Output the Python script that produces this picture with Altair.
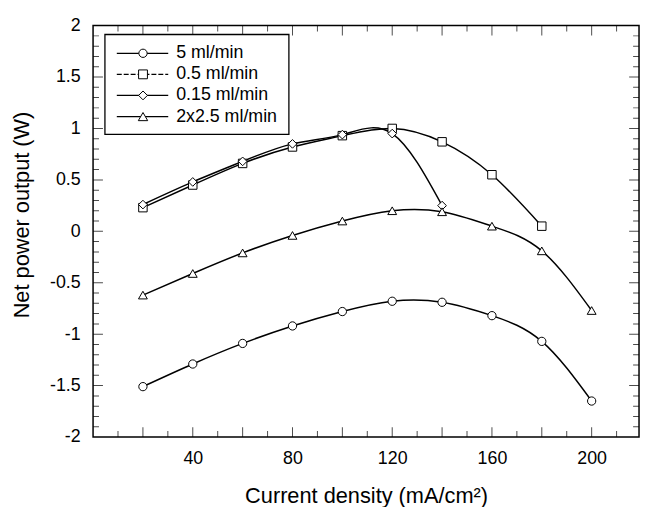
import altair as alt
import pandas as pd

# ---------------- data ----------------
series_names = ["5 ml/min", "0.5 ml/min", "0.15 ml/min", "2x2.5 ml/min"]
series_shapes = ["circle", "square", "diamond", "triangle-up"]
series_sizes = [70, 80, 80, 90]

x_full = [20, 40, 60, 80, 100, 120, 140, 160, 180, 200]
circle_vals = [-1.51, -1.29, -1.09, -0.92, -0.78, -0.68, -0.69, -0.82, -1.07, -1.65]
triangle_vals = [-0.62, -0.41, -0.21, -0.04, 0.10, 0.20, 0.19, 0.05, -0.19, -0.77]
x_square = [20, 40, 60, 80, 100, 120, 140, 160, 180]
square_vals = [0.23, 0.45, 0.66, 0.82, 0.93, 1.00, 0.87, 0.55, 0.05]
x_diamond = [20, 40, 60, 80, 100, 120, 140]
diamond_vals = [0.26, 0.48, 0.68, 0.85, 0.94, 0.95, 0.25]

x_labels = [40, 80, 120, 160, 200]
y_labels = [-2, -1.5, -1, -0.5, 0, 0.5, 1, 1.5, 2]
x_major_ticks = [20, 40, 60, 80, 100, 120, 140, 160, 180, 200]
x_minor_ticks = [10, 30, 50, 70, 90, 110, 130, 150, 170, 190, 210]
y_major_ticks = [-1.5, -1, -0.5, 0, 0.5, 1, 1.5]
y_minor_ticks = [v / 10 for v in range(-19, 20) if v % 5 != 0]

# ---------------- build table ----------------
rows = []
for xs, ys, name in [(x_full, circle_vals, series_names[0]),
                     (x_square, square_vals, series_names[1]),
                     (x_diamond, diamond_vals, series_names[2]),
                     (x_full, triangle_vals, series_names[3])]:
    for xv, yv in zip(xs, ys):
        rows.append({"x": xv, "y": yv, "series": name})
df = pd.DataFrame(rows)

W, H = 552, 416
FONT = "Liberation Sans"
MAJ, MIN = 10, 6

xscale = alt.Scale(domain=[0, 219], nice=False, zero=False)
yscale = alt.Scale(domain=[-2, 2], nice=False, zero=False)

x_axis = alt.Axis(values=x_labels, ticks=False, domain=False, grid=False,
                  labelFontSize=18, labelFont=FONT, labelColor="black",
                  labelPadding=13, labelFlush=False,
                  title="Current density (mA/cm²)", titleFontSize=22,
                  titleFont=FONT, titleFontWeight="normal", titleColor="black",
                  titlePadding=18)
y_axis = alt.Axis(values=y_labels, ticks=False, domain=False, grid=False,
                  labelFontSize=18, labelFont=FONT, labelColor="black",
                  labelPadding=13, labelFlush=False,
                  labelExpr="'' + datum.value",
                  title="Net power output (W)", titleFontSize=22,
                  titleFont=FONT, titleFontWeight="normal", titleColor="black",
                  titlePadding=16, titleY=191)

shape_scale = alt.Scale(domain=series_names, range=series_shapes)
size_scale = alt.Scale(domain=series_names, range=series_sizes)

lines = alt.Chart(df).mark_line(interpolate="natural", color="black",
                                strokeWidth=1.5).encode(
    x=alt.X("x:Q", scale=xscale, axis=x_axis),
    y=alt.Y("y:Q", scale=yscale, axis=y_axis),
    detail="series:N",
)
points = alt.Chart(df).mark_point(filled=True, fill="white", stroke="black",
                                  strokeWidth=1, opacity=1).encode(
    x=alt.X("x:Q", scale=xscale, axis=x_axis),
    y=alt.Y("y:Q", scale=yscale, axis=y_axis),
    shape=alt.Shape("series:N", scale=shape_scale, legend=None),
    size=alt.Size("series:N", scale=size_scale, legend=None),
)

# ---- inward ticks on all four sides ----
def tick_df(vals, length):
    return pd.DataFrame({"v": vals, "s": [2 * length] * len(vals)})

xt = pd.concat([tick_df(x_major_ticks, MAJ), tick_df(x_minor_ticks, MIN)])
yt = pd.concat([tick_df(y_major_ticks, MAJ), tick_df(y_minor_ticks, MIN)])

tick_layers = []
for ypos in [0, H]:
    tick_layers.append(
        alt.Chart(xt).mark_tick(color="black", thickness=1, clip=True).encode(
            x=alt.X("v:Q", scale=xscale, axis=x_axis),
            y=alt.value(ypos),
            size=alt.Size("s:Q", scale=None),
        ))
for xpos in [0, W]:
    tick_layers.append(
        alt.Chart(yt).mark_tick(color="black", thickness=1, clip=True).encode(
            y=alt.Y("v:Q", scale=yscale, axis=y_axis),
            x=alt.value(xpos),
            size=alt.Size("s:Q", scale=None),
        ))

# ---- legend (drawn inside plot) ----
one = pd.DataFrame({"k": [0]})
legend_layers = [
    alt.Chart(one).mark_rect(fill="white", stroke="black", strokeWidth=1.3).encode(
        x=alt.value(12), x2=alt.value(198), y=alt.value(9), y2=alt.value(110))
]
row_y = [28, 49.3, 70.6, 92]
for i, name in enumerate(series_names):
    rule_kwargs = dict(color="black", strokeWidth=1.3)
    if i == 1:
        rule_kwargs["strokeDash"] = [5, 2]
    legend_layers.append(
        alt.Chart(one).mark_rule(**rule_kwargs).encode(
            x=alt.value(24), x2=alt.value(76), y=alt.value(row_y[i])))
    legend_layers.append(
        alt.Chart(one).mark_point(shape=series_shapes[i], size=series_sizes[i],
                                  filled=True, fill="white", stroke="black",
                                  strokeWidth=1, opacity=1).encode(
            x=alt.value(50.5), y=alt.value(row_y[i])))
    legend_layers.append(
        alt.Chart(one).mark_text(align="left", baseline="middle", fontSize=18,
                                 font=FONT, color="black").encode(
            x=alt.value(84), y=alt.value(row_y[i]), text=alt.value(name)))

chart = alt.layer(lines, points, *tick_layers, *legend_layers).properties(
    width=W, height=H,
    autosize=alt.AutoSizeParams(type="none"),
    padding={"left": 86, "top": 15, "right": 2, "bottom": 72},
    background="white",
).configure_view(stroke="black", strokeWidth=1.5)

chart.save("out.html", embed_options={"renderer": "svg", "actions": False})
